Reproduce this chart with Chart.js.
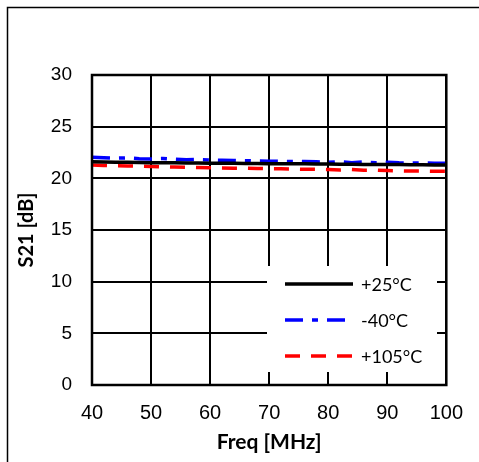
<!DOCTYPE html>
<html>
<head>
<meta charset="utf-8">
<script src="https://cdn.jsdelivr.net/npm/chart.js@4"></script>
<style>
  html, body { margin: 0; padding: 0; background: #fff; }
  canvas { display: block; }
</style>
</head>
<body>
<canvas id="s21-chart" width="479" height="462"></canvas>
<script>
// frequency points (MHz)
const freqs = [40, 42, 44, 46, 48, 50, 52, 54, 56, 58, 60, 62, 64, 66, 68, 70,
               72, 74, 76, 78, 80, 82, 84, 86, 88, 90, 92, 94, 96, 98, 100];
const s21Room = [21.6, 21.58, 21.56, 21.55, 21.54, 21.52, 21.5, 21.5, 21.49, 21.48, 21.47,
                 21.46, 21.45, 21.44, 21.43, 21.42, 21.41, 21.4, 21.4, 21.39, 21.38,
                 21.37, 21.36, 21.35, 21.34, 21.33, 21.33, 21.32, 21.31, 21.3, 21.3];
const s21Cold = [22.05, 22.0, 21.95, 21.98, 21.9, 21.88, 21.92, 21.85, 21.8, 21.82, 21.78,
                 21.75, 21.72, 21.7, 21.68, 21.66, 21.65, 21.63, 21.62, 21.6, 21.55,
                 21.62, 21.52, 21.58, 21.5, 21.55, 21.5, 21.48, 21.5, 21.45, 21.45];
const s21Hot = [21.3, 21.25, 21.22, 21.2, 21.18, 21.15, 21.12, 21.1, 21.08, 21.05, 21.02,
                21.0, 20.98, 20.97, 20.95, 20.93, 20.92, 20.9, 20.88, 20.87, 20.85,
                20.8, 20.85, 20.78, 20.8, 20.75, 20.72, 20.7, 20.7, 20.68, 20.68];
const seriesLabels = ['+25°C', '-40°C', '+105°C'];
const xTicks = [40, 50, 60, 70, 80, 90, 100];
const yTicks = [0, 5, 10, 15, 20, 25, 30];

const toPoints = (ys) => freqs.map((f, i) => ({ x: f, y: ys[i] }));

// outer frame + plot border
const framePlugin = {
  id: 'frame',
  beforeDraw(chart) {
    const ctx = chart.ctx;
    ctx.save();
    ctx.fillStyle = '#fff';
    ctx.fillRect(0, 0, chart.width, chart.height);
    ctx.strokeStyle = '#000';
    ctx.lineWidth = 1.5;
    ctx.strokeRect(7.5, 7.5, chart.width + 20, chart.height + 20);
    ctx.restore();
  },
  afterDraw(chart) {
    const { ctx, chartArea: a } = chart;
    ctx.save();
    ctx.strokeStyle = '#000';
    ctx.lineWidth = 2.5;
    ctx.strokeRect(a.left, a.top, a.right - a.left, a.bottom - a.top);
    ctx.restore();
  }
};

// legend sitting inside the plot, bottom right
const boxLegend = {
  id: 'boxLegend',
  afterDatasetsDraw(chart) {
    const ctx = chart.ctx;
    const bx = 267, by = 266, bw = 170, bh = 106;
    ctx.save();
    ctx.fillStyle = '#fff';
    ctx.fillRect(bx, by, bw, bh);
    chart.data.datasets.forEach((ds, i) => {
      const y = 284 + i * 36;
      ctx.strokeStyle = ds.borderColor;
      ctx.lineWidth = ds.borderWidth;
      ctx.setLineDash(ds.borderDash || []);
      ctx.beginPath();
      ctx.moveTo(285, y);
      ctx.lineTo(353, y);
      ctx.stroke();
      ctx.setLineDash([]);
      ctx.fillStyle = '#000';
      ctx.font = '18px Lato, "Open Sans", sans-serif';
      ctx.textBaseline = 'middle';
      ctx.fillText(ds.label, 361, y + 1);
    });
    ctx.restore();
  }
};

new Chart(document.getElementById('s21-chart'), {
  type: 'line',
  data: {
    datasets: [
      { label: seriesLabels[0], data: toPoints(s21Room), borderColor: '#000000',
        borderWidth: 3.5, pointRadius: 0, tension: 0 },
      { label: seriesLabels[1], data: toPoints(s21Cold), borderColor: '#0000ff',
        borderWidth: 3.5, borderDash: [18, 9, 6, 9], pointRadius: 0, tension: 0 },
      { label: seriesLabels[2], data: toPoints(s21Hot), borderColor: '#ff0000',
        borderWidth: 3.5, borderDash: [15, 11], pointRadius: 0, tension: 0 }
    ]
  },
  options: {
    responsive: false,
    animation: false,
    layout: { padding: { left: 0, top: 75, right: 31, bottom: 0 } },
    plugins: { legend: { display: false }, tooltip: { enabled: false } },
    scales: {
      x: {
        type: 'linear',
        min: 40, max: 100,
        afterFit: (s) => { s.height = 77; },
        afterBuildTicks: (s) => { s.ticks = xTicks.map(v => ({ value: v })); },
        grid: { color: '#000', lineWidth: 2, drawTicks: false },
        border: { display: false },
        ticks: { padding: 16, color: '#000', font: { family: '"Liberation Sans", Arial', size: 20 } },
        title: { display: true, text: 'Freq [MHz]', color: '#000',
                 font: { family: 'Lato, "Open Sans", sans-serif', size: 21, weight: 'bold' },
                 padding: { top: 0, bottom: 7 } }
      },
      y: {
        min: 0, max: 30,
        afterFit: (s) => { s.width = 92; },
        afterBuildTicks: (s) => { s.ticks = yTicks.map(v => ({ value: v })); },
        grid: { color: '#000', lineWidth: 2, drawTicks: false },
        border: { display: false },
        ticks: { padding: 20, color: '#000', font: { family: '"Liberation Sans", Arial', size: 19 } },
        title: { display: true, text: 'S21 [dB]', color: '#000',
                 font: { family: 'Lato, "Open Sans", sans-serif', size: 20, weight: 'bold' },
                 padding: { top: 15, bottom: 0 } }
      }
    }
  },
  plugins: [framePlugin, boxLegend]
});
</script>
</body>
</html>
